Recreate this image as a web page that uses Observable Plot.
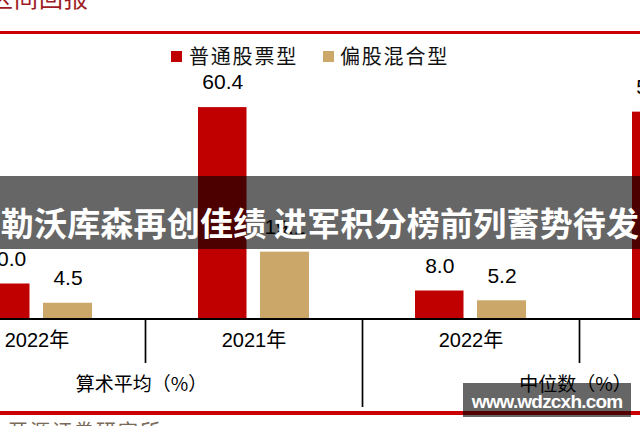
<!DOCTYPE html>
<html><head><meta charset="utf-8">
<script src="https://cdn.jsdelivr.net/npm/d3@7"></script>
<script src="https://cdn.jsdelivr.net/npm/@observablehq/plot@0.6"></script>
<style>
html,body{margin:0;padding:0;background:#fff;}
#wrap{position:relative;width:640px;height:426px;overflow:hidden;font-family:"Noto Sans CJK SC",sans-serif;}
#chart{position:absolute;left:0;top:0;}
.abs{position:absolute;white-space:nowrap;}
#title{left:-11px;top:-16px;font-size:24px;letter-spacing:1px;color:#9e1c24;line-height:26px;}
.redline{left:0;width:640px;background:#cc0000;}
.legsq{width:11px;height:11px;}
.legtx{font-size:20px;letter-spacing:1.8px;color:#111;line-height:20px;}
#source{left:8px;top:420px;font-size:20px;letter-spacing:2px;color:#7a6a5a;line-height:22px;}
#banner{left:0;top:176px;width:640px;height:73px;background:rgba(0,0,0,0.6);color:#fff;font-weight:bold;font-size:33px;text-align:center;line-height:73px;padding-top:10px;box-sizing:border-box;overflow:hidden;letter-spacing:0.2px;}
#wm{left:463px;top:383px;width:168px;height:34px;background:rgba(0,0,0,0.6);color:#fff;font-family:"Liberation Sans",Arial,sans-serif;font-weight:bold;font-size:19px;letter-spacing:-0.8px;text-align:center;line-height:38px;}
g[aria-label="bar-labels"] text{letter-spacing:1.2px;}
g[aria-label="group-labels"] text{letter-spacing:1.5px;}
</style></head><body>
<div id="wrap">
  <div id="chart"></div>
  <div class="abs" id="title">区间回报</div>
  <div class="abs redline" style="top:31px;height:3px;"></div>
  <div class="abs legsq" id="sq0" style="left:171px;top:50.5px;"></div>
  <div class="abs legtx" id="lt0" style="left:189px;top:46px;"></div>
  <div class="abs legsq" id="sq1" style="left:322.5px;top:50.5px;"></div>
  <div class="abs legtx" id="lt1" style="left:340px;top:46px;"></div>
  <div class="abs redline" style="top:411px;height:4px;"></div>
  <div class="abs" id="source">开源证券研究所</div>
  <div class="abs" id="banner">勒沃库森再创佳绩 进军积分榜前列蓄势待发</div>
  <div class="abs" id="wm">www.wdzcxh.com</div>
</div>
<script>
// ---- data ----
const years = ["2022年", "2021年", "2022年", "2021年"];
const stats = ["算术平均（%）", "算术平均（%）", "中位数（%）", "中位数（%）"];
const series = ["普通股票型", "偏股混合型"];
const colors = ["#c00000", "#cca76a"];
const stockValues = [10.0, 60.4, 8.0, 59.1];
const mixedValues = [4.5, 19.1, 5.2, 18.0];

// ---- build table ----
const keys = years.map((y, i) => stats[i] + "|" + y + "|" + i);
const rows = keys.flatMap((k, i) => [
  {cat: k, series: series[0], value: stockValues[i]},
  {cat: k, series: series[1], value: mixedValues[i]}
]);
const statGroups = keys.filter((k, i) => i === 0 || stats[i] !== stats[i - 1]);

// legend
series.forEach((s, j) => {
  document.getElementById("sq" + j).style.background = colors[j];
  document.getElementById("lt" + j).textContent = s;
});

const band = 217;
const redInset = {insetLeft: 53, insetRight: band - 101.5};
const tanInset = {insetLeft: 115, insetRight: band - 164};
const numFont = "Liberation Sans, Arial, sans-serif";
const cjkFont = "Liberation Sans, Noto Sans CJK SC, sans-serif";

const chart = Plot.plot({
  width: 640,
  height: 426,
  marginLeft: 0,
  marginRight: 0,
  marginTop: 108.5,
  marginBottom: 107.5,
  x: {type: "band", domain: keys, range: [-72, -72 + band * keys.length], padding: 0, axis: null},
  y: {domain: [0, 60], axis: null},
  marks: [
    Plot.barY(rows.filter(d => d.series === series[0]), {x: "cat", y: "value", fill: colors[0], ...redInset}),
    Plot.barY(rows.filter(d => d.series === series[1]), {x: "cat", y: "value", fill: colors[1], ...tanInset}),
    Plot.text(rows.filter(d => d.series === series[0]), {x: "cat", y: "value", text: d => d.value.toFixed(1), dx: (53 + 101.5) / 2 - band / 2, dy: -25, fontSize: 21, fontFamily: numFont, fill: "#000", ariaLabel: "bar-labels"}),
    Plot.text(rows.filter(d => d.series === series[1]), {x: "cat", y: "value", text: d => d.value.toFixed(1), dx: (115 + 164) / 2 - band / 2, dy: -25, fontSize: 21, fontFamily: numFont, fill: "#000", ariaLabel: "bar-labels"}),
    Plot.ruleY([0], {stroke: "#000", strokeWidth: 1.8}),
    // category separators
    Plot.ruleX(keys.slice(1).filter(k => !statGroups.includes(k)), {x: d => d, dx: -band / 2, stroke: "#000", strokeWidth: 1.7, insetTop: 210, insetBottom: -44.5}),
    Plot.ruleX(statGroups.slice(1), {x: d => d, dx: -band / 2, stroke: "#000", strokeWidth: 1.7, insetTop: 210, insetBottom: -88.5}),
    // level-1 labels
    Plot.text(keys, {x: d => d, text: (d, i) => years[i], frameAnchor: "bottom", dy: 27.5, fontSize: 20, fontFamily: cjkFont, fill: "#000"}),
    // level-2 labels
    Plot.text(statGroups, {x: d => d, text: d => d.split("|")[0], frameAnchor: "bottom", dy: 71.5, dx: band / 2 - 4, fontSize: 19, fontFamily: "Noto Sans CJK SC, sans-serif", fill: "#000", ariaLabel: "group-labels"})
  ]
});
document.getElementById("chart").appendChild(chart);
</script>
</body></html>
